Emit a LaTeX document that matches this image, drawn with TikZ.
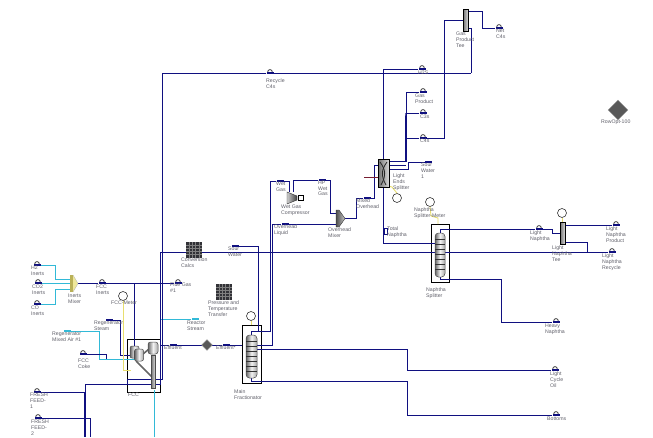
\documentclass[tikz,border=0pt]{standalone}
\usepackage{fontspec}
\setmainfont{Liberation Sans}
\usetikzlibrary{calc, positioning, shapes.geometric}
\definecolor{streamnavy}{RGB}{16,16,128}
\definecolor{steamcyan}{RGB}{50,185,215}
\definecolor{meteryellow}{RGB}{232,222,110}
\definecolor{labelgray}{RGB}{95,95,105}
\definecolor{calcgray}{RGB}{50,50,55}
\definecolor{hotred}{RGB}{120,30,50}
\tikzset{
    stream/.style={streamnavy, line width=1pt},
    water/.style={steamcyan, line width=1pt},
    signal/.style={meteryellow, line width=0.9pt},
    streamend/.style={fill=streamnavy, inner sep=0pt, minimum width=7pt, minimum height=1.8pt},
    hump/.style={draw=black!75, line width=0.8pt},
    tag/.style={font=\fontsize{5.2}{5.6}\selectfont, text=labelgray, anchor=north west, align=left, inner sep=0pt},
    unitbox/.style={draw=black, line width=1pt, inner sep=0pt},
    vessel/.style={draw=black!70, line width=0.5pt, rounded corners=3.5pt, left color=black!60, right color=black!35, middle color=black!5, inner sep=0pt},
    teebar/.style={draw=black, line width=0.6pt, left color=black!55, right color=black!15, inner sep=0pt},
    meter/.style={circle, draw=black!80, fill=white, line width=0.6pt, minimum size=9pt, inner sep=0pt},
    valve/.style={diamond, fill=black!65, draw=black!40, line width=0.4pt, inner sep=0pt, aspect=1},
    spot/.style={inner sep=0pt, minimum size=0pt},
}
\begin{document}
\begin{tikzpicture}[x=1pt, y=-1pt]
    \useasboundingbox (0,0) rectangle (653,437);

    % Bend points
    \foreach \name/\x/\y in {jhtwo/55/279, jcotwo/55/289, jin/134/283, jreg/120/355, jair/99/359,
        jcoke/106/359, jmeter/131/370, jrec/162/379, jlnrec/160/384, jfeedA/85/384, jtick/127/384,
        jfeedB/90/437, jcool/154/437, jsource/258/331, jover/270/331, jwet/270/181, jliq/272.5/345,
        jliqtop/272.5/224, jhpin/330/213, jmo/356/198, jmoup/374/198, jtee/471/73, jside/444/138,
        jnet/482/28, jprod/406/92, jsour/408/169, jredstub/364/177, jln/552/229, jlnout/587/252,
        jhvtop/501/279, jhv/501/322, jfa/407/349, jfb/407/381} {
        \coordinate (\name) at (\x,\y);
    }

    % Units
    \node[unitbox, minimum width=33pt, minimum height=53pt] (fcc) at (143.5,365.5) {};
    \node[unitbox, minimum width=19pt, minimum height=58pt] (mainfrac) at (251.5,354) {};
    \node[unitbox, minimum width=18pt, minimum height=58pt] (naphsplit) at (440,253) {};

    % Stream end markers
    \foreach \name/\x/\y in {h2/37/265, co2/38/283, co/37/304, fccin/102/283, flue/178/283,
        fccoke/83/354, feedA/37/392, feedB/38/418, recycle/270/73, hsulf/422/69, gasprod/423/92,
        cthree/423/113, cfour/423/138, netc/499/28, lnaph/539/229, lnprod/616/225, lnrec/612/252,
        heavy/556/322, lco/555/370, bottoms/556/415} {
        \node[streamend] (\name) at (\x,\y) {};
        \draw[hump] ([xshift=-2.3pt]\name.north) arc (180:360:2.3);
    }

    % Plain stream tabs
    \foreach \name/\x/\y in {regsteam/109/320, effA/173/345, effB/226/345, sourA/235/246,
        overliq/285/224, wetgas/280/181, hpgas/322/180, mixover/367/198, sourB/428/162} {
        \node[streamend] (\name) at (\x,\y) {};
    }
    \node[streamend, fill=steamcyan] (regair) at (67,331) {};
    \node[streamend, fill=steamcyan] (reactor) at (195,319) {};
    \node[draw=streamnavy, line width=1pt, inner sep=0pt, minimum width=3pt, minimum height=6pt] (totnaph) at (386,231) {};

    % Meters
    \node[meter] (fccmeter) at (123,296) {};
    \node[meter] (fracmeter) at (251,316) {};
    \node[meter] (endsmeter) at (397,198) {};
    \node[meter] (naphmeter) at (430,202) {};
    \node[meter] (teemeter) at (562,213) {};

    % Cyan streams
    \draw[water] (h2.east) -| (jhtwo) -- (70,279);
    \draw[water] (co2.east) -- (70,283);
    \draw[water] (co.east) -| (jcotwo) -- (70,289);
    \draw[water] (regair.east) -| (jair) -- (135,359);
    \draw[water] (reactor.west) -- (160,319);
    \draw[water] (jcool) -- (154,390);

    % Navy streams
    \draw[stream] (78,283) -- (fccin) -- (flue);
    \draw[stream] (jin) -- (134,346);
    \draw[stream] (regsteam.east) -| (jreg) -- (130,355);
    \draw[stream] (fccoke.east) -| (jcoke);
    \draw[stream] (feedA.east) -| (jfeedA) -- (151,384);
    \draw[stream] (jtick) |- (151,379);
    \draw[stream] (jfeedA) -- (85,437);
    \draw[stream] (84,392) -- (84,437);
    \draw[stream] (feedB.east) -| (jfeedB);
    \draw[stream] (fcc.east |- effA) -- (effA) -- (202,345);
    \draw[stream] (212,345) -- (effB) -- (mainfrac.west |- effB);
    \draw[stream] (recycle.west) -| (jrec) -- (155,379);
    \draw[stream] (recycle.east) -- (jtee);
    \draw[stream] (lnrec.west) -| (jlnrec) -- (155,384);
    \draw[stream] (sourA.east) -| (jsource);
    \draw[stream] (251,335) |- (jover) -- (jwet) -- (wetgas) -| (289,192);
    \draw[stream] (257,345) -- (jliq) -- (jliqtop) -- (overliq) -- (336,224);
    \draw[stream] (293,192) |- (hpgas.west);
    \draw[stream] (hpgas.east) -| (jhpin) -- (336,213);
    \draw[stream] (345,218) -| (jmo) -- (mixover) -- (jmoup) |- (378,165);
    \draw[hotred, line width=0.8pt] (jredstub) -- (378,177);
    \draw[stream] (383.5,159) |- (hsulf.west);
    \draw[stream] (383.5,187) |- (435,243);
    \draw[stream] (468,28) -| (jtee);
    \draw[stream] (cfour.east) -- (jside) |- (463,20);
    \draw[stream] (468,11) -| (jnet) -- (netc.west);
    \draw[stream] (gasprod.west) -- (jprod) |- (389,161);
    \draw[stream, line width=1.5pt] (jprod |- cthree) -- (405.9,161);
    \draw[stream] (cthree.west) -- (cthree -| jprod);
    \draw[stream] (cfour.west) -- (cfour -| jprod);
    \draw[stream] (389,165) -- (405.9,165);
    \draw[stream] (389,169) -- (jsour) |- (sourB.east);
    \draw[stream] (440,233) |- (lnaph.west);
    \draw[stream] (lnaph.east) -- (jln) |- (560,233);
    \draw[stream] (565,225) -- (lnprod.west);
    \draw[stream] (565,242) -| (jlnout);
    \draw[stream] (440,277) |- (jhvtop) -- (jhv) -- (heavy.west);
    \draw[stream] (257,349) -- (jfa) |- (lco.west);
    \draw[stream] (251,378) |- (jfb) |- (bottoms.west);

    % Meter signals
    \draw[signal] (fccmeter.south) |- (jmeter);
    \draw[signal] (fracmeter.south) -- (mainfrac.north -| fracmeter);
    \draw[signal] (endsmeter.north) -- (392,187) -- (388,186);
    \draw[signal] (naphmeter.south) -- (431,216) -- (438,218) -- (438,224);
    \draw[signal] (teemeter.south) -- (562,222);

    % Columns
    \node[vessel, minimum width=11pt, minimum height=43pt] (maincol) at (251.5,356.5) {};
    \node[vessel, minimum width=10pt, minimum height=44pt] (naphcol) at (440,255) {};
    \foreach \y in {341,346,...,371} {
        \draw[black!80, line width=0.5pt] (246,\y) -- (257,\y);
    }
    \foreach \y in {239,244,...,269} {
        \draw[black!80, line width=0.5pt] (435,\y) -- (445,\y);
    }

    % Tees and splitter
    \node[teebar, minimum width=5pt, minimum height=22pt] (gastee) at (465.5,20) {};
    \node[teebar, minimum width=5pt, minimum height=22pt] (lighttee) at (562.5,233) {};
    \node[teebar, minimum width=11pt, minimum height=28pt] (ends) at (383.5,173) {};
    \draw[black!85, line width=0.8pt] (380,162) .. controls (386,170) and (386,176) .. (381,185);
    \draw[black!85, line width=0.8pt] (387,162) .. controls (381,170) and (381,176) .. (386,185);

    % Reactor vessels
    \draw[black!60, line width=1.6pt] (136,361) -- (152,377);
    \draw[black!60, line width=1.6pt] (143,354) -- (149,349);
    \node[vessel, rounded corners=2pt, minimum width=9pt, minimum height=12pt] (regenA) at (134.5,352) {};
    \node[vessel, rounded corners=2pt, minimum width=9pt, minimum height=12pt] (regenB) at (139,355) {};
    \node[vessel, rounded corners=2.5pt, minimum width=10pt, minimum height=12pt] (sepvessel) at (153,348) {};
    \node[teebar, draw=black!70, minimum width=4pt, minimum height=33pt] (riser) at (153,372) {};

    % Mixers and compressor
    \node[spot, minimum width=8pt, minimum height=17pt] (inmix) at (74,283.5) {};
    \fill[meteryellow!80!black] (70,275) rectangle (73,292);
    \fill[meteryellow!70!white] (73,275) -- (78,283.5) -- (73,292) -- cycle;
    \draw[black!30, line width=0.3pt] (73,275) -- (78,283.5) -- (73,292);
    \node[spot, minimum width=9pt, minimum height=17pt] (ohmix) at (340.5,218.5) {};
    \shade[left color=black!70, right color=black!20, draw=black!80, line width=0.4pt] (336,210) -- (339,210) -- (345,218.5) -- (339,227) -- (336,227) -- cycle;
    \node[spot, minimum width=16pt, minimum height=12pt] (comp) at (295,198) {};
    \shade[left color=black!20, right color=black!75, draw=black!80, line width=0.4pt] (287,192) -- (297,196) -- (297,200) -- (287,204) -- cycle;
    \draw[black, line width=0.8pt, fill=white] (298.5,195.5) rectangle (303,200.5);

    % Valves
    \node[valve, minimum size=11pt] (effvalve) at (207,345) {};
    \node[valve, minimum size=20pt] (rowopt) at (618,110) {};

    % Data blocks
    \foreach \name/\x/\y in {convcalc/186/242, ptcalc/216/284} {
        \node[spot, fill=calcgray, minimum width=16pt, minimum height=15.5pt, anchor=north west] (\name) at (\x,\y) {};
        \foreach \r in {3,6,...,12} {
            \draw[black!50, line width=0.5pt] (\x,\y+\r) -- ++(16,0);
        }
        \foreach \c in {3.2,6.4,...,12.8} {
            \draw[black!50, line width=0.5pt] (\x+\c,\y) -- ++(0,15.5);
        }
    }

    % Labels
    \foreach \x/\y/\txt [count=\i] in {
        31/266/{H2\\Inerts}, 32/285/{CO2\\Inerts}, 31/306/{CO\\Inerts}, 68/294/{Inerts\\Mixer},
        96/285/{FCC\\Inerts}, 170/283/{Flue Gas\\\#1}, 111/301/{FCC-Meter},
        94/321/{Regenerator\\Steam}, 52/332/{Regenerator\\Mixed Air \#1}, 78/359/{FCC\\Coke},
        128/393/{FCC}, 30/393/{FRESH\\FEED-\\1}, 31/420/{FRESH\\FEED-\\2},
        164/346/{Effluent}, 216/346/{Effluent*}, 187/321/{Reactor\\Stream},
        181/258/{Conversion\\Calcs}, 228/247/{Sour\\Water},
        208/301/{Pressure and\\Temperature\\Transfer}, 234/390/{Main\\Fractionator},
        274/225/{Overhead\\Liquid}, 276/182/{Wet\\Gas}, 318/181/{HP\\Wet\\Gas},
        281/205/{Wet Gas\\Compressor}, 328/228/{Overhead\\Mixer}, 356/199/{Mixed\\Overhead},
        387/227/{Total\\Naphtha}, 393/174/{Light\\Ends\\Splitter}, 421/163/{Sour\\Water\\1},
        414/208/{Naphtha\\Splitter-Meter}, 426/288/{Naphtha\\Splitter}, 530/231/{Light\\Naphtha},
        552/246/{Light\\Naphtha\\Tee}, 606/227/{Light\\Naphtha\\Product},
        602/254/{Light\\Naphtha\\Recycle}, 545/324/{Heavy\\Naphtha}, 550/372/{Light\\Cycle\\Oil},
        547/417/{Bottoms}, 496/29/{Net\\C4s}, 456/32/{Gas\\Product\\Tee}, 266/79/{Recycle\\C4s},
        418/71/{H2S}, 415/94/{Gas\\Product}, 420/115/{C3s}, 420/139/{C4s}, 601/120/{RowOpt-100}} {
        \node[tag] (tag\i) at (\x,\y) {\txt};
    }
\end{tikzpicture}
\end{document}
